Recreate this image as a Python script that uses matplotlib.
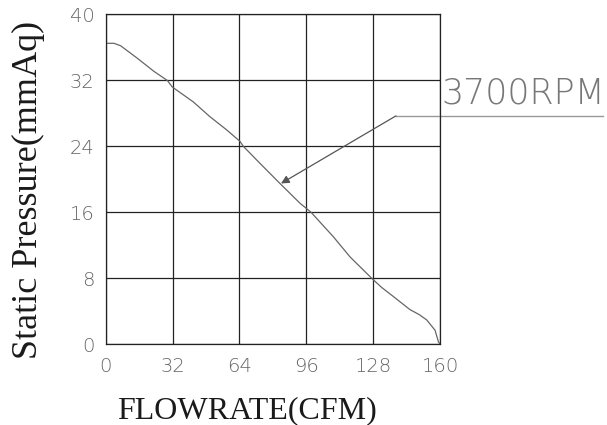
import numpy as np
import matplotlib.pyplot as plt

# values
flow = [0, 4, 7.2, 15.1, 23.1, 29.5, 31.9, 41.9, 49.9, 57.9, 64.3, 65.9,
        74, 83.4, 93.0, 98.3, 108.9, 116.9, 127.3, 132, 137.6, 145.6,
        150, 153.6, 157.6, 159.2, 160]
pressure = [36.5, 36.5, 36.2, 34.7, 33.1, 32.0, 31.2, 29.4, 27.6, 26.0, 24.6,
            24.0, 21.9, 19.5, 17.1, 16.0, 13.05, 10.6, 8.0, 6.9, 5.8,
            4.2, 3.6, 2.95, 1.7, 0.3, 0]
xticks = [0, 32, 64, 96, 128, 160]
yticks = [0, 8, 16, 24, 32, 40]
label = "3700RPM"

fig = plt.figure(figsize=(6.07, 4.25), dpi=100)
ax = fig.add_axes([0.174, 0.19, 0.551, 0.776])

ax.plot(flow, pressure, color="#666666", lw=0.9)
ax.set_xlim(0, 160)
ax.set_ylim(0, 40)
ax.set_xticks(xticks)
ax.set_yticks(yticks)
ax.grid(True, color="#222222", lw=0.9)
for s in ax.spines.values():
    s.set_color("#222222")
    s.set_linewidth(0.9)
ax.tick_params(length=0, labelsize=14, labelcolor="#666666")
ax.tick_params(axis="x", pad=9)
ax.tick_params(axis="y", pad=8)
for t in ax.get_xticklabels() + ax.get_yticklabels():
    t.set_fontfamily("DejaVu Sans")
    t.set_fontweight("light")

# leader line with arrow to the curve
ax.annotate("", xy=(83.9, 19.5), xytext=(138.9, 27.7),
            arrowprops=dict(arrowstyle="-|>", color="#555555", lw=0.9,
                            mutation_scale=12, shrinkA=0, shrinkB=0),
            annotation_clip=False)
ax.plot([138.9, 238], [27.7, 27.7], color="#999999", lw=1.0, clip_on=False)
ax.text(239, 28.4, label, fontsize=25, color="#777777", ha="right",
        va="bottom", family="DejaVu Sans", fontweight="light", clip_on=False)

# axis titles
fig.text(247 / 607, 1 - 418 / 425, "FLOWRATE(CFM)", fontsize=23,
         family="Liberation Serif", color="#1a1a1a", ha="center",
         va="baseline")
fig.text(28 / 607, 1 - 190 / 425, "Static Pressure(mmAq)", fontsize=26,
         family="Liberation Serif", color="#1a1a1a", rotation=90,
         ha="center", va="center")

fig.savefig("out.png", dpi=100)
